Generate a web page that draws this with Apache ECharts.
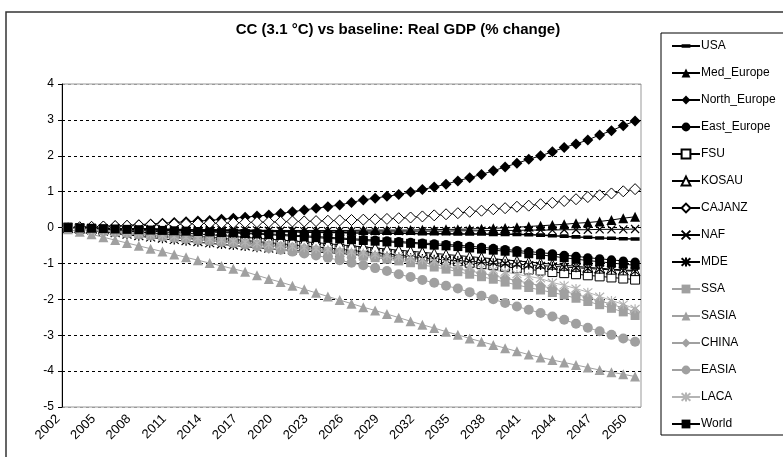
<!DOCTYPE html>
<html>
<head>
<meta charset="utf-8">
<script src="https://cdn.jsdelivr.net/npm/echarts@6/dist/echarts.min.js"></script>
<style>
html,body{margin:0;padding:0;background:#fff;}
#chart{width:783px;height:457px;}
</style>
</head>
<body>
<div id="chart"></div>
<script>
const years = ['2002','2003','2004','2005','2006','2007','2008','2009','2010','2011',
'2012','2013','2014','2015','2016','2017','2018','2019','2020','2021',
'2022','2023','2024','2025','2026','2027','2028','2029','2030','2031',
'2032','2033','2034','2035','2036','2037','2038','2039','2040','2041',
'2042','2043','2044','2045','2046','2047','2048','2049','2050'];

const USA = [0.00,-0.01,-0.02,-0.03,-0.03,-0.04,-0.04,-0.05,-0.06,-0.06,
-0.07,-0.07,-0.08,-0.09,-0.09,-0.10,-0.11,-0.11,-0.12,-0.12,
-0.13,-0.13,-0.14,-0.14,-0.15,-0.15,-0.15,-0.16,-0.16,-0.16,
-0.17,-0.17,-0.17,-0.18,-0.18,-0.18,-0.19,-0.19,-0.19,-0.20,
-0.21,-0.23,-0.24,-0.26,-0.27,-0.29,-0.30,-0.31,-0.32];

const Med_Europe = [0.00,-0.01,-0.01,-0.02,-0.02,-0.03,-0.03,-0.04,-0.04,-0.05,
-0.05,-0.06,-0.06,-0.06,-0.07,-0.07,-0.07,-0.08,-0.08,-0.08,
-0.08,-0.08,-0.08,-0.08,-0.08,-0.07,-0.07,-0.07,-0.07,-0.07,
-0.06,-0.06,-0.05,-0.05,-0.04,-0.03,-0.02,-0.01,0.01,0.03,
0.05,0.07,0.09,0.12,0.14,0.17,0.21,0.26,0.30];

const North_Europe = [0.00,0.01,0.02,0.03,0.05,0.06,0.08,0.10,0.12,0.14,
0.16,0.18,0.20,0.23,0.26,0.29,0.32,0.35,0.39,0.44,
0.49,0.54,0.58,0.63,0.70,0.77,0.82,0.87,0.92,0.99,
1.06,1.13,1.21,1.30,1.39,1.48,1.58,1.69,1.79,1.90,
2.00,2.11,2.23,2.33,2.44,2.58,2.70,2.84,2.97];

const East_Europe = [0.00,-0.01,-0.02,-0.03,-0.04,-0.05,-0.05,-0.06,-0.07,-0.08,
-0.09,-0.10,-0.11,-0.12,-0.13,-0.15,-0.16,-0.18,-0.19,-0.21,
-0.23,-0.25,-0.27,-0.29,-0.31,-0.33,-0.35,-0.37,-0.39,-0.41,
-0.43,-0.45,-0.47,-0.49,-0.52,-0.55,-0.58,-0.61,-0.64,-0.67,
-0.70,-0.73,-0.77,-0.80,-0.84,-0.87,-0.90,-0.93,-0.96];

const FSU = [0.00,-0.02,-0.04,-0.06,-0.08,-0.10,-0.12,-0.15,-0.17,-0.20,
-0.22,-0.25,-0.27,-0.30,-0.33,-0.36,-0.39,-0.42,-0.45,-0.48,
-0.51,-0.54,-0.57,-0.60,-0.64,-0.67,-0.70,-0.73,-0.77,-0.80,
-0.84,-0.87,-0.91,-0.94,-0.98,-1.02,-1.05,-1.09,-1.13,-1.17,
-1.20,-1.24,-1.27,-1.30,-1.33,-1.36,-1.39,-1.42,-1.45];

const KOSAU = [0.00,-0.01,-0.02,-0.04,-0.05,-0.07,-0.08,-0.10,-0.12,-0.14,
-0.16,-0.18,-0.20,-0.22,-0.25,-0.27,-0.30,-0.32,-0.35,-0.37,
-0.40,-0.42,-0.45,-0.48,-0.51,-0.54,-0.57,-0.60,-0.63,-0.66,
-0.69,-0.72,-0.75,-0.78,-0.81,-0.84,-0.87,-0.90,-0.93,-0.96,
-0.99,-1.02,-1.05,-1.08,-1.11,-1.13,-1.16,-1.18,-1.20];

const CAJANZ = [0.00,0.01,0.02,0.03,0.04,0.05,0.06,0.07,0.08,0.09,
0.10,0.11,0.12,0.12,0.13,0.14,0.15,0.15,0.16,0.17,
0.17,0.18,0.19,0.20,0.21,0.22,0.23,0.24,0.26,0.28,
0.31,0.34,0.37,0.40,0.44,0.47,0.51,0.54,0.58,0.61,
0.65,0.69,0.74,0.79,0.85,0.90,0.95,1.01,1.07];

const NAF = [0.00,-0.01,-0.01,-0.02,-0.02,-0.03,-0.03,-0.04,-0.04,-0.05,
-0.05,-0.06,-0.06,-0.07,-0.07,-0.08,-0.08,-0.09,-0.09,-0.09,
-0.10,-0.10,-0.10,-0.10,-0.10,-0.10,-0.10,-0.10,-0.10,-0.10,
-0.10,-0.10,-0.10,-0.09,-0.09,-0.09,-0.08,-0.08,-0.08,-0.07,
-0.07,-0.07,-0.06,-0.06,-0.06,-0.05,-0.05,-0.05,-0.04];

const MDE = [0.00,-0.04,-0.08,-0.12,-0.16,-0.20,-0.24,-0.28,-0.31,-0.35,
-0.38,-0.41,-0.44,-0.47,-0.50,-0.53,-0.56,-0.59,-0.62,-0.64,
-0.66,-0.68,-0.70,-0.72,-0.74,-0.76,-0.78,-0.80,-0.82,-0.84,
-0.86,-0.88,-0.90,-0.92,-0.94,-0.96,-0.98,-1.00,-1.02,-1.04,
-1.06,-1.08,-1.10,-1.12,-1.14,-1.16,-1.18,-1.20,-1.22];

const SSA = [0.00,-0.03,-0.06,-0.09,-0.12,-0.15,-0.18,-0.21,-0.24,-0.27,
-0.30,-0.33,-0.36,-0.39,-0.42,-0.45,-0.48,-0.51,-0.54,-0.57,
-0.61,-0.64,-0.68,-0.72,-0.76,-0.80,-0.84,-0.88,-0.93,-0.98,
-1.04,-1.10,-1.16,-1.23,-1.30,-1.37,-1.44,-1.52,-1.60,-1.67,
-1.74,-1.81,-1.88,-1.97,-2.06,-2.15,-2.25,-2.35,-2.45];

const SASIA = [-0.05,-0.12,-0.19,-0.27,-0.35,-0.43,-0.51,-0.59,-0.67,-0.75,
-0.83,-0.91,-0.99,-1.07,-1.15,-1.23,-1.33,-1.43,-1.52,-1.62,
-1.72,-1.82,-1.92,-2.02,-2.12,-2.22,-2.31,-2.41,-2.51,-2.61,
-2.71,-2.80,-2.90,-2.99,-3.09,-3.18,-3.27,-3.36,-3.45,-3.54,
-3.62,-3.69,-3.76,-3.83,-3.90,-3.97,-4.03,-4.09,-4.15];

const CHINA = [0.00,-0.03,-0.05,-0.08,-0.11,-0.14,-0.17,-0.20,-0.23,-0.26,
-0.29,-0.31,-0.34,-0.37,-0.40,-0.43,-0.46,-0.49,-0.52,-0.55,
-0.58,-0.61,-0.65,-0.68,-0.72,-0.76,-0.80,-0.84,-0.88,-0.93,
-0.98,-1.03,-1.09,-1.15,-1.21,-1.27,-1.34,-1.41,-1.48,-1.55,
-1.62,-1.70,-1.78,-1.86,-1.95,-2.04,-2.14,-2.24,-2.35];

const EASIA = [0.00,-0.04,-0.07,-0.10,-0.13,-0.16,-0.19,-0.22,-0.25,-0.28,
-0.31,-0.34,-0.37,-0.40,-0.43,-0.47,-0.52,-0.57,-0.62,-0.67,
-0.72,-0.78,-0.84,-0.91,-0.98,-1.05,-1.13,-1.21,-1.30,-1.38,
-1.46,-1.54,-1.62,-1.70,-1.80,-1.90,-2.00,-2.10,-2.20,-2.29,
-2.38,-2.48,-2.57,-2.68,-2.79,-2.89,-2.99,-3.09,-3.18];

const LACA = [0.00,-0.03,-0.06,-0.08,-0.11,-0.14,-0.16,-0.19,-0.22,-0.25,
-0.27,-0.30,-0.33,-0.35,-0.38,-0.41,-0.44,-0.47,-0.50,-0.53,
-0.56,-0.59,-0.62,-0.65,-0.68,-0.71,-0.75,-0.78,-0.82,-0.86,
-0.90,-0.94,-0.98,-1.03,-1.08,-1.13,-1.18,-1.24,-1.30,-1.36,
-1.42,-1.53,-1.61,-1.70,-1.80,-1.92,-2.03,-2.14,-2.26];

const World = [0.00,-0.01,-0.02,-0.03,-0.04,-0.05,-0.06,-0.07,-0.08,-0.09,
-0.10,-0.11,-0.12,-0.14,-0.15,-0.17,-0.18,-0.20,-0.22,-0.24,
-0.26,-0.28,-0.30,-0.32,-0.34,-0.36,-0.38,-0.40,-0.42,-0.44,
-0.46,-0.49,-0.51,-0.53,-0.57,-0.60,-0.63,-0.66,-0.69,-0.73,
-0.76,-0.80,-0.84,-0.88,-0.92,-0.95,-0.99,-1.02,-1.05];

const yTicks = [-5,-4,-3,-2,-1,0,1,2,3,4];

const BLACK = '#000000';
const GRAY = '#a0a0a0';
const LGRAY = '#b4b4b4';
const CROSS = 'path://M0,0L10,10M10,0L0,10';
const STAR = 'path://M0,0L10,10M10,0L0,10M5,-1L5,11';
const DASH = 'path://M0,0L0.01,0L0.01,0.01ZM0,3L10,3L10,7L0,7ZM9.99,9.99L10,9.99L10,10Z';
const FONT = 'Liberation Sans, Arial, sans-serif';

function mk(name, data, symbol, size, fill, stroke, lineColor, lw, bw) {
  return {
    name: name, type: 'line', data: data,
    symbol: symbol, symbolSize: size, showSymbol: true, showAllSymbol: true,
    itemStyle: {color: fill, borderColor: stroke, borderWidth: bw == null ? 1 : bw},
    lineStyle: {color: lineColor, width: lw || 1},
    emphasis: {disabled: true},
    z: 2
  };
}

const series = [
  mk('USA', USA, DASH, 9, BLACK, BLACK, BLACK, 1.5, 0),
  mk('Med_Europe', Med_Europe, 'triangle', 10, BLACK, BLACK, BLACK, 1, 0),
  mk('North_Europe', North_Europe, 'diamond', 11, BLACK, BLACK, BLACK, 1, 0),
  mk('East_Europe', East_Europe, 'circle', 9, BLACK, BLACK, BLACK, 1, 0),
  mk('FSU', FSU, 'rect', 9, '#ffffff', BLACK, BLACK, 1, 1),
  mk('KOSAU', KOSAU, 'triangle', 10, '#ffffff', BLACK, BLACK, 1, 1),
  mk('CAJANZ', CAJANZ, 'diamond', 11, '#ffffff', BLACK, BLACK, 1, 1),
  mk('NAF', NAF, CROSS, 8, BLACK, BLACK, BLACK, 1, 1.2),
  mk('MDE', MDE, STAR, 9, BLACK, BLACK, BLACK, 1, 1.2),
  mk('SSA', SSA, 'rect', 9, GRAY, GRAY, GRAY, 1, 0),
  mk('SASIA', SASIA, 'triangle', 10, GRAY, GRAY, GRAY, 1, 0),
  mk('CHINA', CHINA, 'diamond', 11, GRAY, GRAY, GRAY, 1, 0),
  mk('EASIA', EASIA, 'circle', 10, GRAY, GRAY, GRAY, 1, 0),
  mk('LACA', LACA, STAR, 9, LGRAY, LGRAY, LGRAY, 1, 1.2),
  mk('World', World, 'rect', 9, BLACK, BLACK, BLACK, 1, 0)
];

const chart = echarts.init(document.getElementById('chart'), null, {renderer: 'canvas'});
chart.setOption({
  animation: false,
  backgroundColor: '#ffffff',
  textStyle: {fontFamily: FONT},
  title: {
    text: 'CC (3.1 °C) vs baseline: Real GDP (% change)',
    left: 393, top: 17, textAlign: 'center',
    textStyle: {fontSize: 15, fontWeight: 'bold', color: '#000', fontFamily: FONT}
  },
  graphic: [
    {type: 'rect', shape: {x: 6, y: 12, width: 790, height: 470}, style: {fill: 'none', stroke: '#333', lineWidth: 1.5}, z: 0, silent: true},
    {type: 'rect', shape: {x: 661, y: 33, width: 140, height: 402}, style: {fill: 'none', stroke: '#000', lineWidth: 1}, z: 0, silent: true}
  ],
  legend: {
    orient: 'vertical', left: 666, top: 35,
    itemWidth: 28, itemHeight: 11, itemGap: 15,
    data: series.map(s => s.name),
    textStyle: {fontSize: 12, color: '#000', fontFamily: FONT, padding: [0,0,0,-4]},
    selectedMode: false
  },
  grid: {left: 62, top: 84, width: 579, height: 323, show: true, borderColor: '#999', borderWidth: 1, containLabel: false},
  xAxis: {
    type: 'category', data: years, boundaryGap: true,
    axisLine: {show: false}, axisTick: {show: false},
    axisLabel: {interval: 2, rotate: 45, fontSize: 13, color: '#000', margin: 0, padding: [0, 14, 0, 0]},
    splitLine: {show: false}
  },
  yAxis: {
    type: 'value', min: yTicks[0], max: yTicks[yTicks.length-1], interval: 1,
    axisLine: {show: true, lineStyle: {color: '#000', width: 1}},
    axisTick: {show: true, length: 4, lineStyle: {color: '#000'}},
    axisLabel: {fontSize: 12, color: '#000', margin: 8},
    splitLine: {show: true, lineStyle: {type: [3,3], width: 1,
      color: ['#999','#000','#000','#000','#000','#000','#000','#000','#000','#999']}}
  },
  series: series
});
</script>
</body>
</html>
